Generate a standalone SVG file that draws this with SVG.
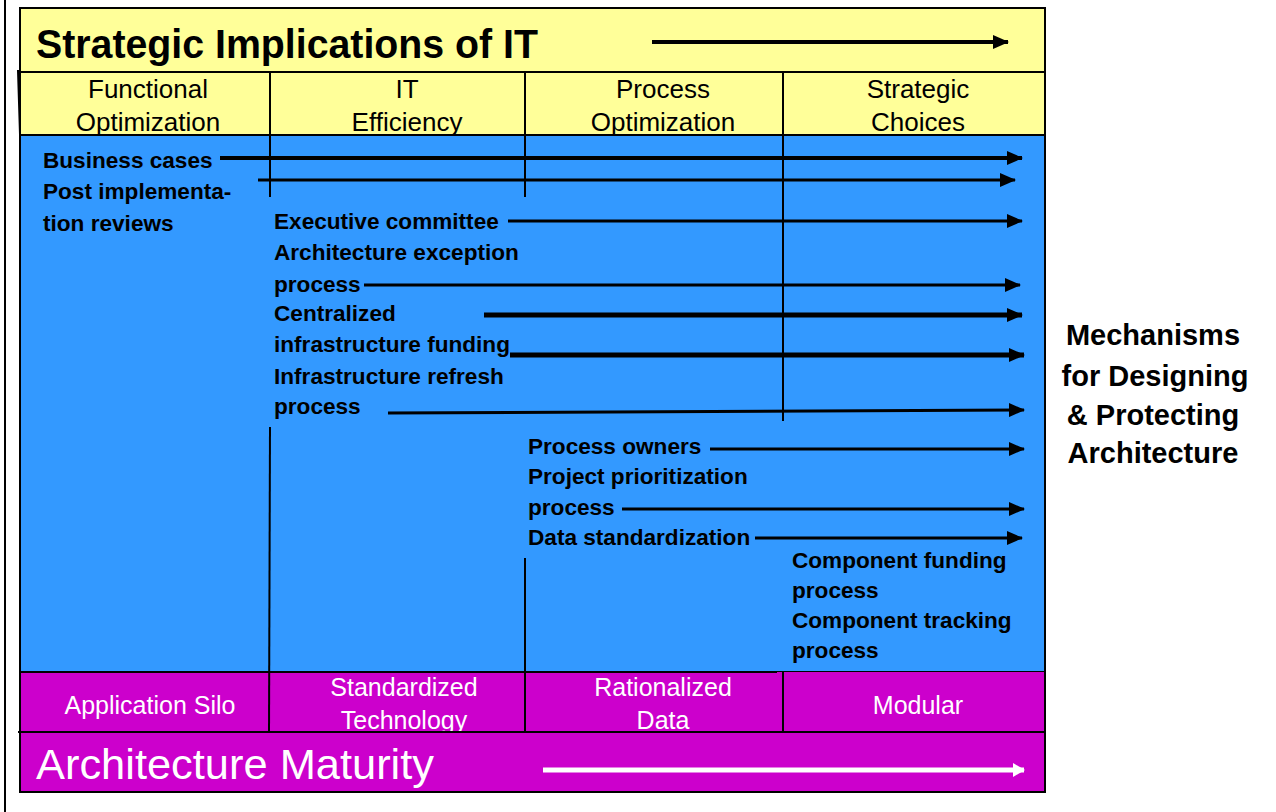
<svg xmlns="http://www.w3.org/2000/svg" width="1276" height="812" viewBox="0 0 1276 812">
<style>
.b{font-family:"Liberation Sans",Arial,sans-serif;font-weight:bold;font-size:22.6px;fill:#000}
.h{font-family:"Liberation Sans",Arial,sans-serif;font-size:26px;fill:#000;text-anchor:middle}
.w{font-family:"Liberation Sans",Arial,sans-serif;font-size:25px;fill:#fff;text-anchor:middle}
.r{font-family:"Liberation Sans",Arial,sans-serif;font-weight:bold;font-size:29px;fill:#000;text-anchor:middle}
.ln{stroke:#000;stroke-width:2;fill:none}
.ar{stroke:#000;fill:none}
</style>
<defs>
<marker id="ah" markerUnits="userSpaceOnUse" markerWidth="16" markerHeight="14" refX="15" refY="7" orient="auto"><path d="M0,0 L16,7 L0,14 Z" fill="#000"/></marker>
<marker id="ahw" markerUnits="userSpaceOnUse" markerWidth="12" markerHeight="14" refX="11" refY="7" orient="auto"><path d="M0,0 L12,7 L0,14 Z" fill="#fff"/></marker>
</defs>
<rect width="1276" height="812" fill="#fff"/>
<line x1="5" y1="0" x2="5" y2="812" class="ln"/>

<g id="title">
<rect x="20" y="8" width="1025" height="64" fill="#FFFF99" stroke="#000" stroke-width="2"/>
<text x="36" y="58" font-family="'Liberation Sans',Arial,sans-serif" font-weight="bold" font-size="40" textLength="502" lengthAdjust="spacingAndGlyphs">Strategic Implications of IT</text>
</g>

<g id="header">
<rect x="20" y="72" width="1025" height="63" fill="#FFFF99" stroke="#000" stroke-width="2"/>
<line x1="18" y1="70" x2="20" y2="135" class="ln"/>
<text class="h" x="148" y="98">Functional</text>
<text class="h" x="148" y="131">Optimization</text>
<text class="h" x="407" y="98">IT</text>
<text class="h" x="407" y="131">Efficiency</text>
<text class="h" x="663" y="98">Process</text>
<text class="h" x="663" y="131">Optimization</text>
<text class="h" x="918" y="98">Strategic</text>
<text class="h" x="918" y="131">Choices</text>
</g>

<g id="body">
<rect x="20" y="135" width="1025" height="537" fill="#3399FF" stroke="#000" stroke-width="2"/>
</g>

<g id="maturity-row">
<rect x="20" y="672" width="1025" height="60" fill="#CC00CC"/>
<text class="w" x="150" y="714">Application Silo</text>
<text class="w" x="404" y="696">Standardized</text>
<text class="w" x="404" y="729">Technology</text>
<text class="w" x="663" y="696">Rationalized</text>
<text class="w" x="663" y="729">Data</text>
<text class="w" x="918" y="714">Modular</text>
</g>

<g id="maturity">
<rect x="20" y="732" width="1025" height="60" fill="#CC00CC" stroke="#000" stroke-width="2"/>
<text x="36" y="779" font-family="'Liberation Sans',Arial,sans-serif" font-size="42" fill="#fff" textLength="398" lengthAdjust="spacingAndGlyphs">Architecture Maturity</text>
</g>

<g id="grid">
<line x1="270" y1="72" x2="270" y2="197" class="ln"/>
<line x1="525" y1="72" x2="525" y2="197" class="ln"/>
<line x1="783" y1="72" x2="783" y2="421" class="ln"/>
<line x1="270" y1="427" x2="269" y2="732" class="ln"/>
<line x1="525" y1="558" x2="525" y2="732" class="ln"/>
<line x1="783" y1="672" x2="783" y2="732" class="ln"/>
<line x1="20" y1="672" x2="777" y2="672" class="ln"/>
<line x1="18" y1="732" x2="1045" y2="732" class="ln"/>
<line x1="20" y1="672" x2="20" y2="792" class="ln"/>
<line x1="1045" y1="672" x2="1045" y2="792" class="ln"/>
</g>

<g id="labels">
<text class="b" x="43" y="168">Business cases</text>
<text class="b" x="43" y="199">Post implementa-</text>
<text class="b" x="43" y="231">tion  reviews</text>
<text class="b" x="274" y="229">Executive committee</text>
<text class="b" x="274" y="260">Architecture exception</text>
<text class="b" x="274" y="292">process</text>
<text class="b" x="274" y="321">Centralized</text>
<text class="b" x="274" y="352">infrastructure funding</text>
<text class="b" x="274" y="384">Infrastructure refresh</text>
<text class="b" x="274" y="414">process</text>
<text class="b" x="528" y="454">Process owners</text>
<text class="b" x="528" y="484">Project prioritization</text>
<text class="b" x="528" y="515">process</text>
<text class="b" x="528" y="545">Data standardization</text>
<text class="b" x="792" y="568">Component funding</text>
<text class="b" x="792" y="598">process</text>
<text class="b" x="792" y="628">Component tracking</text>
<text class="b" x="792" y="658">process</text>
</g>

<g id="side-label">
<text class="r" x="1153" y="345">Mechanisms</text>
<text class="r" x="1155" y="386">for Designing</text>
<text class="r" x="1153" y="425">&amp; Protecting</text>
<text class="r" x="1153" y="463">Architecture</text>
</g>

<g id="connectors">
<line x1="652" y1="42" x2="1008" y2="42" class="ar" stroke-width="4" marker-end="url(#ah)"/>
<line x1="220" y1="158" x2="1022" y2="158" class="ar" stroke-width="4" marker-end="url(#ah)"/>
<line x1="258" y1="180" x2="1015" y2="180" class="ar" stroke-width="3" marker-end="url(#ah)"/>
<line x1="508" y1="221" x2="1022" y2="221" class="ar" stroke-width="3" marker-end="url(#ah)"/>
<line x1="364" y1="285" x2="1020" y2="285" class="ar" stroke-width="3" marker-end="url(#ah)"/>
<line x1="484" y1="315" x2="1022" y2="315" class="ar" stroke-width="5" marker-end="url(#ah)"/>
<line x1="510" y1="355" x2="1024" y2="355" class="ar" stroke-width="5" marker-end="url(#ah)"/>
<line x1="388" y1="413" x2="1024" y2="410" class="ar" stroke-width="3" marker-end="url(#ah)"/>
<line x1="710" y1="449" x2="1024" y2="449" class="ar" stroke-width="3" marker-end="url(#ah)"/>
<line x1="622" y1="509" x2="1024" y2="509" class="ar" stroke-width="3" marker-end="url(#ah)"/>
<line x1="755" y1="538" x2="1022" y2="538" class="ar" stroke-width="3" marker-end="url(#ah)"/>
<line x1="543" y1="770" x2="1024" y2="770" stroke="#fff" stroke-width="5" marker-end="url(#ahw)"/>
</g>
</svg>
